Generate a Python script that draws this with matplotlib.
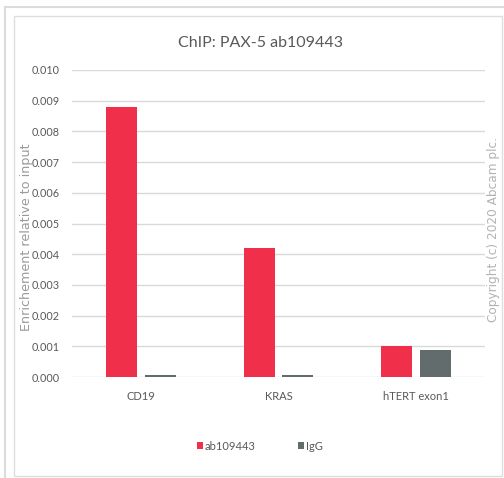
import matplotlib
matplotlib.use("Agg")
import matplotlib.pyplot as plt
from matplotlib.patches import Rectangle
from matplotlib.lines import Line2D
import numpy as np

categories = ["CD19", "KRAS", "hTERT exon1"]
series_names = ["ab109443", "IgG"]
ab_values = [0.0088, 0.0042, 0.00102]
igg_values = [0.00005, 0.00005, 0.00089]
yticks = [0.000, 0.001, 0.002, 0.003, 0.004, 0.005, 0.006, 0.007, 0.008, 0.009, 0.010]

red = "#F0304A"
grey = "#636C6C"
txt = "#595959"

plt.rcParams['font.family'] = ['Lato', 'DejaVu Sans']

W, H = 504, 478
fig = plt.figure(figsize=(W / 100, H / 100), dpi=100)

def fx(px):
    return px / W
def fy(py):
    return 1 - py / H

fig.add_artist(Line2D([fx(5), fx(5)], [fy(7), fy(478)], color="#dcdcdc", lw=1.5, transform=fig.transFigure))
fig.add_artist(Line2D([fx(5), fx(504)], [fy(7), fy(7)], color="#dcdcdc", lw=1.5, transform=fig.transFigure))
fig.add_artist(Rectangle((fx(14), fy(476)), fx(502) - fx(14), fy(16) - fy(476),
                         fill=False, edgecolor="#dedede", lw=1.0, transform=fig.transFigure))

ax = fig.add_axes([fx(72), fy(377), fx(485) - fx(72), fy(70) - fy(377)])
x = np.arange(len(categories))
w = 0.225
off = 0.141
ax.bar(x - off, ab_values, width=w, color=red, label=series_names[0], zorder=3)
ax.bar(x + off, igg_values, width=w, color=grey, label=series_names[1], zorder=3)

ax.set_xlim(-0.5, 2.5)
ax.set_ylim(0, 0.010)
ax.set_yticks(yticks)
ax.set_yticklabels([f"{v:.3f}" for v in yticks], color=txt, fontsize=7.8)
ax.set_xticks(x)
ax.set_xticklabels(categories, color=txt, fontsize=8)
ax.tick_params(axis="both", length=0)
ax.tick_params(axis="y", pad=9)
ax.tick_params(axis="x", pad=10)
ax.grid(axis="y", color="#d9d9d9", lw=1, zorder=0)
for s in ax.spines.values():
    s.set_visible(False)

fig.text(fx(27), fy(237), "Enrichement relative to input", rotation=90, ha="center", va="center",
         color="#9a9a9a", fontsize=9.2, family=["DejaVu Sans"])

fig.text(fx(261), fy(43), "ChIP: PAX-5 ab109443", ha="center", va="center", color=txt, fontsize=11.5)

fig.text(fx(493), fy(230), "Copyright (c) 2020 Abcam plc.", rotation=90, ha="center", va="center",
         color="#b3b3b3", fontsize=8.7, family=["DejaVu Sans"])

leg = ax.legend(loc="center", bbox_to_anchor=(fx(260), fy(446)), bbox_transform=fig.transFigure,
                ncol=2, frameon=False, fontsize=8, handlelength=0.55, handleheight=0.55,
                handletextpad=0.15, columnspacing=3.8)
for t in leg.get_texts():
    t.set_color(txt)

fig.savefig("out.png", dpi=100)
